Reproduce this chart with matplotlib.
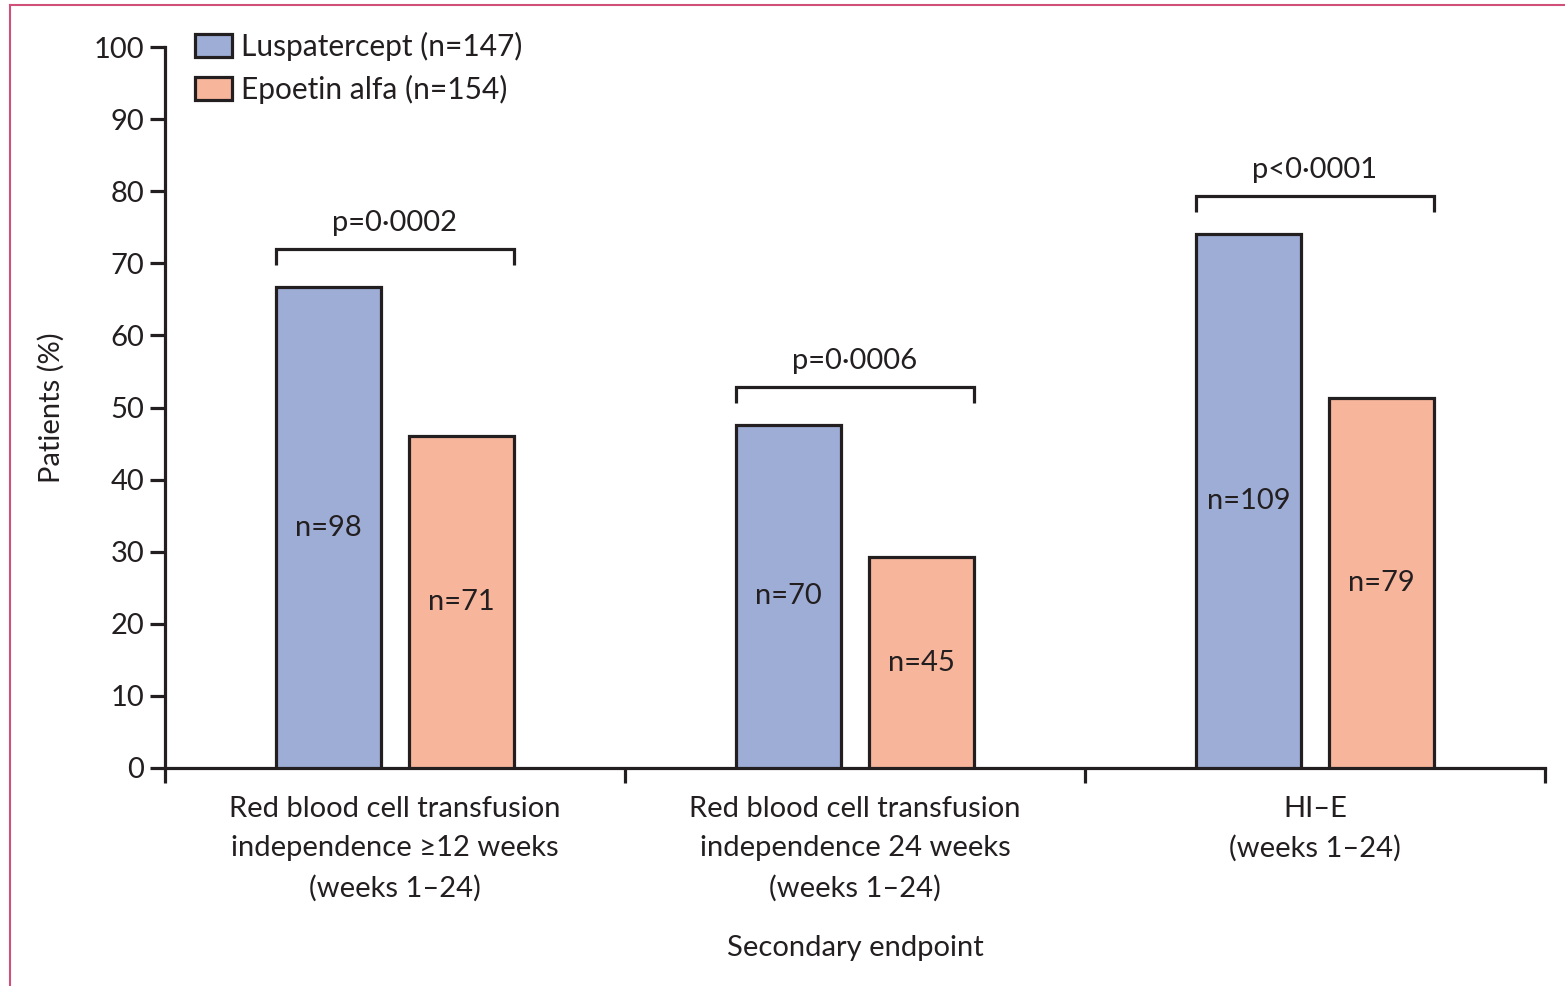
import matplotlib
matplotlib.use("Agg")
import matplotlib.pyplot as plt
from matplotlib.lines import Line2D
import numpy as np

# Secondary endpoints, response rates (%) and responder counts
categories = [
    "Red blood cell transfusion\nindependence \u226512 weeks\n(weeks 1\u201324)",
    "Red blood cell transfusion\nindependence 24 weeks\n(weeks 1\u201324)",
    "HI\u2013E\n(weeks 1\u201324)",
]
series_names = ["Luspatercept (n=147)", "Epoetin alfa (n=154)"]
luspatercept_pct = [66.7, 47.6, 74.1]
epoetin_pct = [46.1, 29.2, 51.3]
luspatercept_n = [98, 70, 109]
epoetin_n = [71, 45, 79]
p_values = ["p=0\u00b70002", "p=0\u00b70006", "p<0\u00b70001"]
y_ticks = list(range(0, 101, 10))

plt.rcParams["font.family"] = ["Lato", "DejaVu Sans"]
text_color = "#231f20"
blue = "#9eadd6"
orange = "#f7b59b"
edge = "#231f20"

fig = plt.figure(figsize=(15.65, 9.86), dpi=100)
ax = fig.add_axes([165 / 1565, 1 - 768 / 986, (1545 - 165) / 1565, (768 - 47) / 986])

x = np.arange(len(categories))
width = 0.228
offset = 0.144

bars_a = ax.bar(x - offset, luspatercept_pct, width, color=blue, edgecolor=edge,
                linewidth=2.3, label=series_names[0], zorder=3)
bars_b = ax.bar(x + offset, epoetin_pct, width, color=orange, edgecolor=edge,
                linewidth=2.3, label=series_names[1], zorder=3)

fs = 21
# n labels inside bars
for xi, h, n in zip(x - offset, luspatercept_pct, luspatercept_n):
    ax.text(xi, h / 2, f"n={n}", ha="center", va="center", fontsize=fs, color=text_color, zorder=4)
for xi, h, n in zip(x + offset, epoetin_pct, epoetin_n):
    ax.text(xi, h / 2, f"n={n}", ha="center", va="center", fontsize=fs, color=text_color, zorder=4)

# Significance brackets
for xi, ha_, hb_, p in zip(x, luspatercept_pct, epoetin_pct, p_values):
    top = max(ha_, hb_) + 5.3
    x0 = xi - offset - width / 2
    x1 = xi + offset + width / 2
    ax.plot([x0, x0, x1, x1], [top - 2.3, top, top, top - 2.3], color=edge,
            linewidth=2.3, solid_capstyle="butt", solid_joinstyle="miter", clip_on=False)
    ax.text(xi, top + 1.8, p, ha="center", va="bottom", fontsize=fs, color=text_color)

ax.set_xlim(-0.5, 2.5)
ax.set_ylim(0, 100)

ax.set_yticks(y_ticks)
ax.set_yticklabels([str(v) for v in y_ticks])
ax.set_xticks(x)
ax.set_xticklabels(categories, fontsize=fs, color=text_color, linespacing=1.62)
ax.set_xticks([-0.5, 0.5, 1.5, 2.5], minor=True)
ax.tick_params(axis="x", which="major", length=0, pad=20)
ax.tick_params(axis="x", which="minor", length=11, width=2.3, direction="out", color=edge)
ax.tick_params(axis="y", length=11, width=2.3, direction="out", color=edge, pad=4,
               labelsize=fs, labelcolor=text_color)

for side in ["top", "right"]:
    ax.spines[side].set_visible(False)
for side in ["left", "bottom"]:
    ax.spines[side].set_linewidth(2.3)
    ax.spines[side].set_color(edge)

ax.set_ylabel("Patients (%)", fontsize=fs, color=text_color, labelpad=21)
ax.set_xlabel("Secondary endpoint", fontsize=fs, color=text_color, labelpad=24)

leg = ax.legend(loc="upper left", bbox_to_anchor=(195 / 1565, 1 - 32 / 986),
                bbox_transform=fig.transFigure, frameon=False, fontsize=fs + 0.5,
                handlelength=1.25, handleheight=0.8, handletextpad=0.3,
                labelspacing=0.45, borderpad=0, borderaxespad=0)
for t in leg.get_texts():
    t.set_color(text_color)

# Thin page frame along the top and left edges
frame_color = "#d0507a"
fig.add_artist(Line2D([10 / 1565, 1], [1 - 5 / 986, 1 - 5 / 986], color=frame_color,
                      linewidth=1.5, transform=fig.transFigure))
fig.add_artist(Line2D([10 / 1565, 10 / 1565], [0, 1 - 5 / 986], color=frame_color,
                      linewidth=1.5, transform=fig.transFigure))

fig.savefig("out.png", dpi=100)
